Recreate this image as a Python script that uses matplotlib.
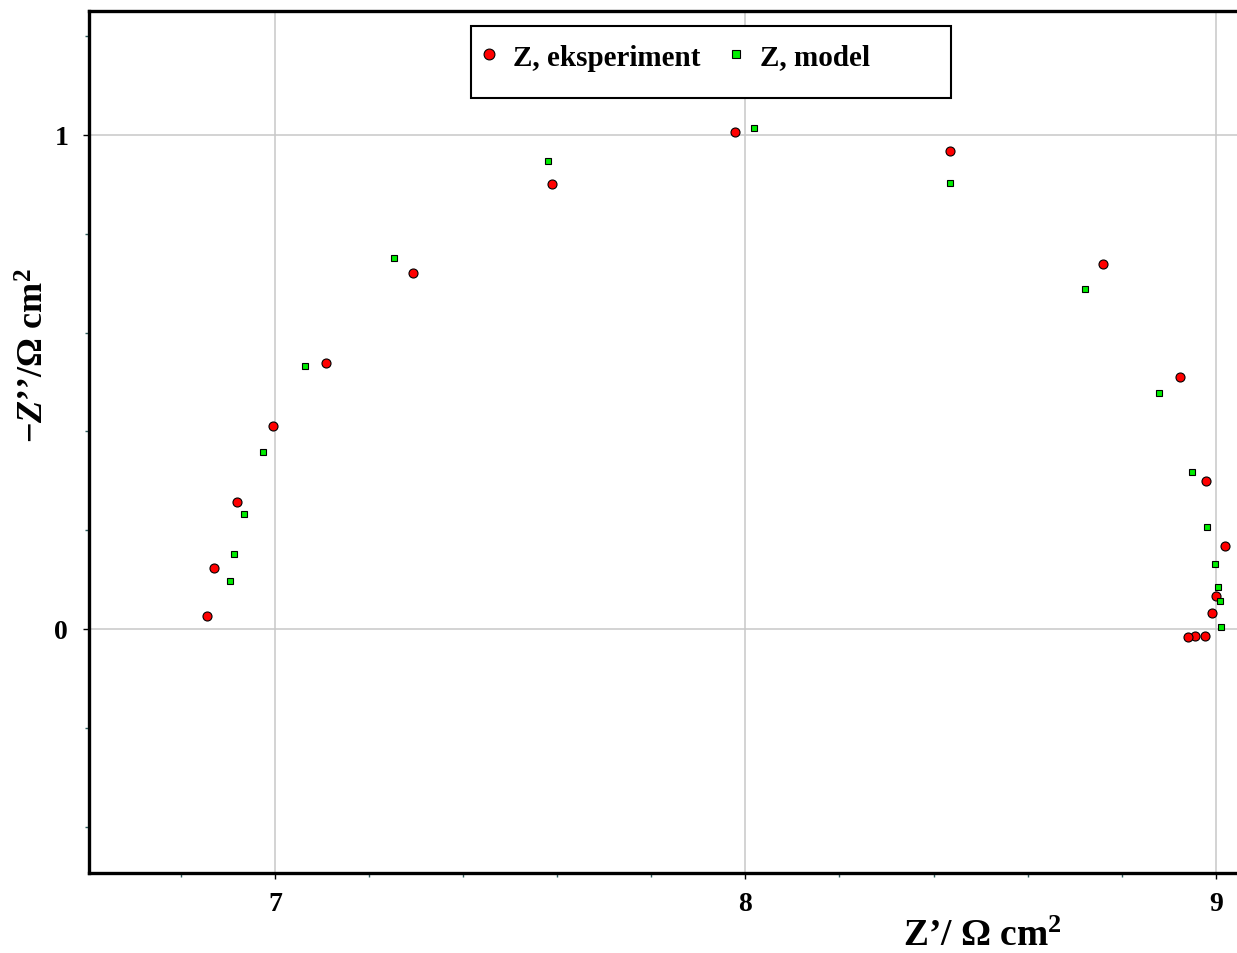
import matplotlib
matplotlib.use("Agg")
import matplotlib.pyplot as plt
from matplotlib.ticker import MultipleLocator
from matplotlib.patches import Rectangle

plt.rcParams['font.family'] = ['Liberation Serif', 'DejaVu Serif']
plt.rcParams['font.weight'] = 'bold'
plt.rcParams['mathtext.fontset'] = 'custom'
plt.rcParams['mathtext.rm'] = 'Liberation Serif:bold'
plt.rcParams['mathtext.bf'] = 'Liberation Serif:bold'
plt.rcParams['mathtext.it'] = 'Liberation Serif:bold:italic'
plt.rcParams['mathtext.default'] = 'bf'

# experiment
exp_re = [6.856, 6.870, 6.919, 6.996, 7.108, 7.293, 7.590, 7.977, 8.435,
          8.760, 8.924, 8.979, 9.019, 9.000, 8.992, 8.977, 8.955, 8.941]
exp_im = [0.026, 0.123, 0.257, 0.411, 0.538, 0.721, 0.901, 1.006, 0.968,
          0.739, 0.510, 0.300, 0.168, 0.067, 0.032, -0.014, -0.014, -0.016]

# model
mod_re = [6.904, 6.913, 6.934, 6.975, 7.064, 7.253, 7.580, 8.019, 8.435,
          8.722, 8.879, 8.949, 8.981, 8.998, 9.004, 9.008, 9.011]
mod_im = [0.097, 0.152, 0.233, 0.358, 0.532, 0.751, 0.947, 1.014, 0.903,
          0.688, 0.478, 0.318, 0.206, 0.132, 0.085, 0.057, 0.004]

fig = plt.figure(figsize=(12.37, 9.54), dpi=100)
ax = fig.add_axes([89/1237, 1 - 874/954, 1 - 89/1237, 862/954])

ax.plot(exp_re, exp_im, 'o', color='#ff0000', mec='black', mew=0.8, ms=6.5,
        label='Z, eksperiment', zorder=3)
ax.plot(mod_re, mod_im, 's', color='#00ee00', mec='black', mew=0.8, ms=5,
        label='Z, model', zorder=3)

ax.set_xlim(6.605, 9.045)
ax.set_ylim(-0.494, 1.251)
ax.xaxis.set_major_locator(MultipleLocator(1))
ax.yaxis.set_major_locator(MultipleLocator(1))
ax.xaxis.set_minor_locator(MultipleLocator(0.2))
ax.yaxis.set_minor_locator(MultipleLocator(0.2))
ax.grid(True, which='major', color='#c8c8c8', lw=1.1)
ax.set_axisbelow(True)

for s in ['left', 'bottom', 'top']:
    ax.spines[s].set_linewidth(2.4)
    ax.spines[s].set_color('black')
ax.spines['right'].set_visible(False)

ax.tick_params(which='major', length=4, width=1, color='black',
               labelsize=20, pad=9)
ax.tick_params(which='minor', length=3, width=1, color='#2f5f5f')
ax.tick_params(axis='y', pad=11)

# legend box (drawn separately, it is taller than the entries)
x0 = (471 - 89) / 1148
x1 = (951 - 89) / 1148
yt = (874 - 27) / 862
yb = (874 - 99) / 862
ax.add_patch(Rectangle((x0, yb), x1 - x0, yt - yb, transform=ax.transAxes,
                       facecolor='white', edgecolor='black', lw=1.5, zorder=4))

leg = ax.legend(loc='center left', bbox_to_anchor=(x0 + 11 / 1148, (874 - 58) / 862),
                ncol=2, fontsize=21, frameon=False, markerscale=1.2,
                handlelength=0.5, handletextpad=0.55, columnspacing=1.0,
                borderpad=0.0, borderaxespad=0)
leg.set_zorder(5)
for t in leg.get_texts():
    t.set_fontweight('bold')

fig.text(982/1237, 1 - 937/954, "Z\u2019/ \u03a9 cm$^{2}$",
         ha='center', va='center', fontsize=27, fontweight='bold')
fig.text(35/1237, 1 - 356/954, "\u2212$\\mathit{Z}$\u2019\u2019/\u03a9 cm$^{2}$",
         ha='center', va='center', rotation=90, fontsize=26, fontweight='bold')

fig.savefig('out.png', dpi=100)
